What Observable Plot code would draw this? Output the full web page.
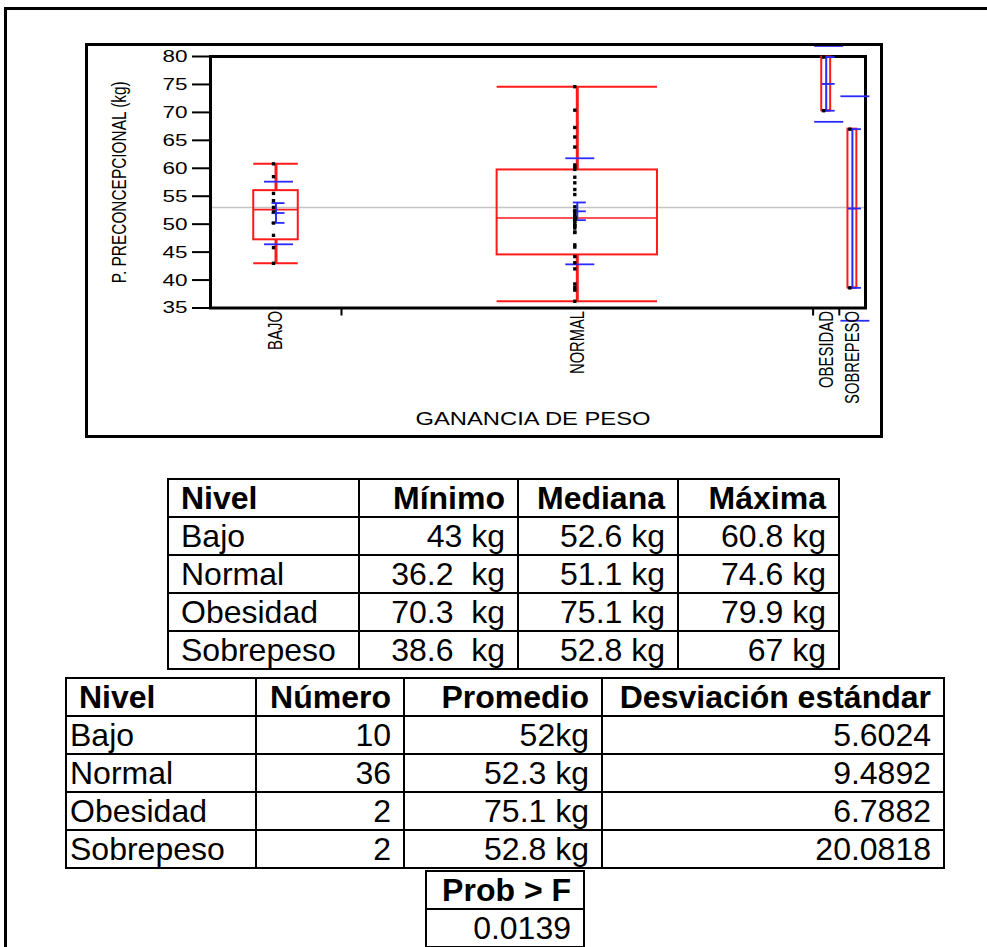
<!DOCTYPE html>
<html>
<head>
<meta charset="utf-8">
<script src="https://cdn.jsdelivr.net/npm/d3@7"></script>
<script src="https://cdn.jsdelivr.net/npm/@observablehq/plot@0.6"></script>
<style>
  body { margin: 0; background: #fff; }
  #page { position: relative; width: 987px; height: 947px; overflow: hidden; background: #fff;
          font-family: "Liberation Sans", Arial, sans-serif; color: #000; }
  #page > svg { position: absolute; left: 0; top: 0; }
  .borde { position: absolute; pointer-events: none; box-sizing: border-box; }
  table.t { position: absolute; border-collapse: collapse; table-layout: fixed; font-size: 32px; line-height: 1; }
  table.t td, table.t th { border: 2px solid #000; padding: 0 12px 0 12px; white-space: pre; text-align: right;
          overflow: hidden; vertical-align: middle; }
  table.t tr { height: 38px; }
  table.t th { font-weight: bold; }
  table.t .izq { text-align: left; }
  table.t.ajustada td.izq { padding-left: 3px; }
</style>
</head>
<body>
<div id="page"></div>
<script>
// Niveles de ganancia de peso y resumen por grupo (kg)
const niveles = ["BAJO", "NORMAL", "OBESIDAD", "SOBREPESO"];
const nivelesTabla = ["Bajo", "Normal", "Obesidad", "Sobrepeso"];
const numero = [10, 36, 2, 2];
const minimo = [43, 36.2, 70.3, 38.6];
const mediana = [52.6, 51.1, 75.1, 52.8];
const maxima = [60.8, 74.6, 79.9, 67];
const cuartil1 = [47.2, 44.5, 70.3, 38.6];
const cuartil3 = [56.0, 59.7, 79.9, 67];
const promedio = [52, 52.3, 75.1, 52.8];
const desviacion = [5.6024, 9.4892, 6.7882, 20.0818];
const mediaGeneral = 53.0;
const probF = "0.0139";

// Peso preconcepcional de cada paciente, por grupo
const pesosBajo = [60.8, 58.5, 55.5, 54.2, 53.0, 52.2, 50.2, 48.0, 45.8, 43.0];
const pesosNormal = [74.6, 70.4, 67.3, 65.6, 63.8, 60.6, 60.2, 59.8, 58.4, 57.4, 56.2, 55.3,
  53.1, 52.4, 51.9, 51.4, 51.1, 51.1, 51.1, 50.8, 50.5, 50.1, 49.7, 49.7, 49.3, 48.6, 48.5,
  46.3, 45.9, 44.2, 43.1, 42.0, 39.3, 38.7, 38.2, 36.2];
const pesosObesidad = [79.9, 70.3];
const pesosSobrepeso = [67, 38.6];
const pesos = [pesosBajo, pesosNormal, pesosObesidad, pesosSobrepeso];

// Textos de las tablas (unidad y separación tal como se imprimen)
const sepMin = [" ", "  ", "  ", "  "];
const sepProm = ["", " ", " ", " "];
const yTicks = [35, 40, 45, 50, 55, 60, 65, 70, 75, 80];

// ---- Gráfico: ancho de cada categoría proporcional al número de casos ----
const total = d3.sum(numero);
const inicio = numero.map((n, i) => d3.sum(numero.slice(0, i)));
const pxPorUnidad = (987 - 210 - 122) / total;
const u = px => px / pxPorUnidad;

const grupos = niveles.map((nivel, i) => {
  const c = inicio[i] + numero[i] / 2;
  const h = numero[i] * 0.17;
  const ee = desviacion[i] / Math.sqrt(numero[i]);
  return {
    nivel, c, x1: c - h, x2: c + h,
    min: minimo[i], q1: cuartil1[i], med: mediana[i], q3: cuartil3[i], max: maxima[i],
    media: promedio[i],
    dsA: promedio[i] + desviacion[i], dsB: promedio[i] - desviacion[i],
    eeA: promedio[i] + ee, eeB: promedio[i] - ee
  };
});
const puntos = grupos.flatMap((g, i) => pesos[i].map(kg => ({c: g.c, kg})));

const rojo = "#ff1a1a", azul = "#2a2aff";
const fuenteEstrecha = "'Liberation Sans Narrow', 'Liberation Sans', Arial, sans-serif";

const lineasDs = ["dsA", "dsB"].map(k => Plot.ruleY(grupos, {
  y: k, x1: d => d.c - u(14.5), x2: d => d.c + u(14.5), dx: 3, stroke: azul, strokeWidth: 1.8
}));
const lineasEe = ["eeA", "eeB", "media"].map(k => Plot.ruleY(grupos, {
  y: k, x1: d => d.c - u(6), x2: d => d.c + u(7), dx: 2, stroke: azul, strokeWidth: 1.8
}));

const chart = Plot.plot({
  width: 987,
  height: 450,
  marginLeft: 210,
  marginRight: 122,
  marginTop: 56,
  marginBottom: 142.5,
  style: {background: "transparent", overflow: "visible", fontFamily: "'Liberation Sans', Arial, sans-serif"},
  x: {domain: [0, total], label: null},
  y: {domain: [35, 80], label: null},
  marks: [
    Plot.ruleY([mediaGeneral], {stroke: "#c4c4c4", strokeWidth: 1.5}),
    Plot.frame({stroke: "#000", strokeWidth: 3}),
    Plot.axisY({ticks: yTicks, tickSize: 18, tickPadding: 5, strokeWidth: 2, fontSize: 17, label: null}),
    Plot.axisX({ticks: inicio.slice(1), tickSize: 8, tickFormat: () => "", strokeWidth: 2, label: null}),
    // cajas, medianas, bigotes
    Plot.rect(grupos, {x1: "x1", x2: "x2", y1: "q1", y2: "q3", fill: "none", stroke: rojo, strokeWidth: 2}),
    Plot.ruleY(grupos, {y: "med", x1: "x1", x2: "x2", stroke: rojo, strokeWidth: 1.6}),
    Plot.ruleX(grupos, {x: "c", y1: "min", y2: "q1", stroke: rojo, strokeWidth: 3}),
    Plot.ruleX(grupos, {x: "c", y1: "q3", y2: "max", stroke: rojo, strokeWidth: 3}),
    Plot.ruleY(grupos, {y: "min", x1: "x1", x2: "x2", stroke: rojo, strokeWidth: 2}),
    Plot.ruleY(grupos, {y: "max", x1: "x1", x2: "x2", stroke: rojo, strokeWidth: 2}),
    // media ± error estándar y ± desviación estándar
    Plot.ruleX(grupos, {x: "c", y1: "eeB", y2: "eeA", stroke: azul, strokeWidth: 2}),
    ...lineasEe,
    ...lineasDs,
    // observaciones
    Plot.dot(puntos, {x: "c", y: "kg", symbol: "square", r: 1.9, fill: "#000", stroke: "none", dx: -2.5}),
    // rótulos de categoría y de ejes
    Plot.text(grupos, {x: "c", text: "nivel", frameAnchor: "bottom", rotate: -90, textAnchor: "end",
      lineAnchor: "middle", dy: 3, fontSize: 20, fontFamily: fuenteEstrecha}),
    Plot.text(["P. PRECONCEPCIONAL (kg)"], {frameAnchor: "left", rotate: -90, textAnchor: "middle",
      lineAnchor: "middle", dx: -91, fontSize: 21, fontFamily: fuenteEstrecha}),
    Plot.text(["GANANCIA DE PESO"], {frameAnchor: "bottom", textAnchor: "middle", lineAnchor: "middle",
      dx: -5, dy: 111.5, fontSize: 18, fontFamily: fuenteEstrecha})
  ]
});

// Ajuste del largo de los rótulos (tipografía condensada del programa estadístico)
const largos = {"BAJO": 39, "NORMAL": 63, "OBESIDAD": 77, "SOBREPESO": 93,
  "P. PRECONCEPCIONAL (kg)": 202, "GANANCIA DE PESO": 235};
chart.querySelectorAll("text").forEach(t => {
  const L = largos[t.textContent];
  if (L) { t.setAttribute("textLength", L); t.setAttribute("lengthAdjust", "spacingAndGlyphs"); }
});
chart.querySelectorAll('g[aria-label="y-axis tick label"] text').forEach(t => {
  t.setAttribute("textLength", 25); t.setAttribute("lengthAdjust", "spacingAndGlyphs");
});

const page = document.getElementById("page");
page.appendChild(chart);

// Marcos: borde de página y recuadro del gráfico
function borde(left, top, width, height, css) {
  const d = document.createElement("div");
  d.className = "borde";
  Object.assign(d.style, {left: left + "px", top: top + "px", width: width + "px", height: height + "px"}, css);
  page.appendChild(d);
}
borde(4, 7, 1000, 1000, {borderTop: "3px solid #000", borderLeft: "3px solid #000"});
borde(85, 43, 798, 395, {border: "3px solid #000"});

// ---- Tablas ----
function tabla(left, top, anchos, encabezado, filas, clase) {
  const t = document.createElement("table");
  t.className = "t" + (clase ? " " + clase : "");
  t.style.left = left + "px";
  t.style.top = top + "px";
  t.style.width = d3.sum(anchos) + "px";
  const cg = document.createElement("colgroup");
  anchos.forEach(w => { const c = document.createElement("col"); c.style.width = w + "px"; cg.appendChild(c); });
  t.appendChild(cg);
  const agregarFila = (celdas, tag) => {
    const tr = document.createElement("tr");
    celdas.forEach((txt, j) => {
      const td = document.createElement(tag);
      td.textContent = txt;
      if (j === 0 && anchos.length > 1) td.className = "izq";
      tr.appendChild(td);
    });
    t.appendChild(tr);
  };
  agregarFila(encabezado, "th");
  filas.forEach(f => agregarFila(f, "td"));
  page.appendChild(t);
  return t;
}

tabla(167, 478, [191, 159, 160, 161], ["Nivel", "Mínimo", "Mediana", "Máxima"],
  nivelesTabla.map((n, i) => [n, minimo[i] + sepMin[i] + "kg", mediana[i] + " kg", maxima[i] + " kg"]));

tabla(65, 677, [190, 148, 198, 342], ["Nivel", "Número", "Promedio", "Desviación estándar"],
  nivelesTabla.map((n, i) => [n, String(numero[i]), promedio[i] + sepProm[i] + "kg", String(desviacion[i])]),
  "ajustada");

tabla(425, 870, [158], ["Prob > F"], [[probF]]);
</script>
</body>
</html>
